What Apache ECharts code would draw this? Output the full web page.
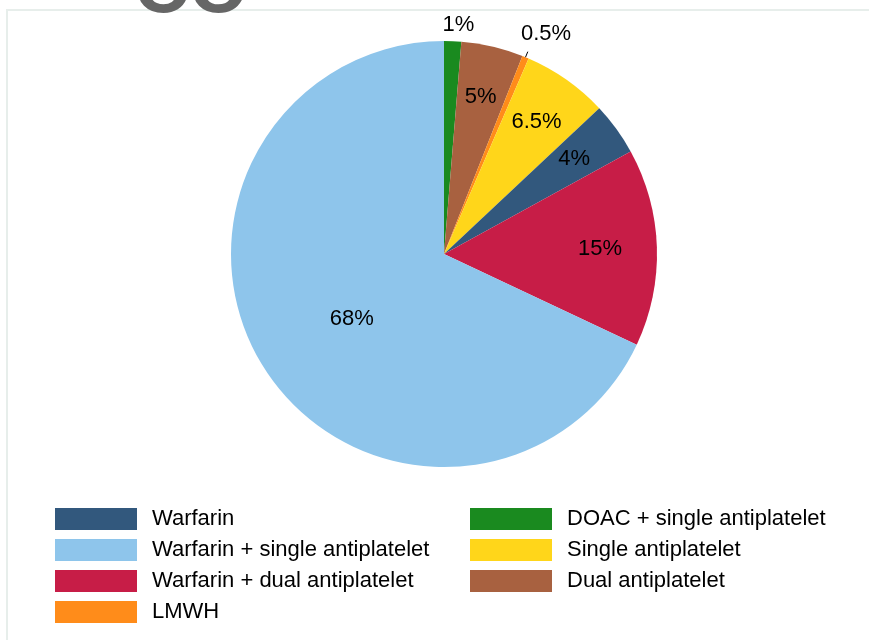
<!DOCTYPE html>
<html>
<head>
<meta charset="utf-8">
<script src="https://cdn.jsdelivr.net/npm/echarts@6/dist/echarts.min.js"></script>
<style>
html,body{margin:0;padding:0;background:#fff;}
#c{width:869px;height:640px;}
</style>
</head>
<body>
<div id="c"></div>
<script>
// Slices in clockwise order from 12 o'clock
const categories = ['DOAC + single antiplatelet', 'Dual antiplatelet', 'LMWH', 'Single antiplatelet', 'Warfarin', 'Warfarin + dual antiplatelet', 'Warfarin + single antiplatelet'];
const values = [1.3, 4.7, 0.5, 6.5, 4, 15, 68];
const labels = ['1%', '5%', '0.5%', '6.5%', '4%', '15%', '68%'];
const colors = ['#1a8a1f', '#a86140', '#ff8c1a', '#ffd61a', '#32587d', '#c71d47', '#8ec5eb'];
const outsideLabelled = ['DOAC + single antiplatelet', 'LMWH'];
const legendLeft = ['Warfarin', 'Warfarin + single antiplatelet', 'Warfarin + dual antiplatelet', 'LMWH'];
const legendRight = ['DOAC + single antiplatelet', 'Single antiplatelet', 'Dual antiplatelet'];

const chart = echarts.init(document.getElementById('c'), null, {renderer: 'canvas'});
const FONT = 'Liberation Sans, Arial, sans-serif';
const center = [444, 254];
const R = 213;

function labelSeries(names, outerRadius, padding) {
  return {
    type: 'pie', silent: true, center: center, radius: [0, outerRadius],
    startAngle: 90, clockwise: true, z: 5,
    itemStyle: {color: 'transparent', borderWidth: 0},
    emphasis: {disabled: true},
    data: categories.map((c, i) => ({
      name: c, value: values[i],
      itemStyle: {color: 'transparent', borderWidth: 0},
      label: {show: names.indexOf(c) >= 0, position: 'inside', formatter: labels[i],
               color: '#000', fontSize: 22, fontFamily: FONT, padding: padding}
    }))
  };
}

const option = {
  animation: false,
  backgroundColor: '#fff',
  graphic: [
    {type: 'rect', z: 1, shape: {x: 7, y: 10, width: 900, height: 700},
     style: {fill: 'none', stroke: '#e7eeeb', lineWidth: 2}},
    {type: 'text', z: 2, left: 134, top: -47,
     style: {text: 'CO', font: 'bold 76px Liberation Sans, Arial, sans-serif', fill: '#666666'}}
  ],
  legend: [
    {orient: 'vertical', left: 50, top: 503, itemWidth: 82, itemHeight: 22, itemGap: 9,
     icon: 'rect', data: legendLeft, selectedMode: false,
     textStyle: {fontSize: 22, fontFamily: FONT, color: '#000', padding: [3, 0, 0, 10]}},
    {orient: 'vertical', left: 465, top: 503, itemWidth: 82, itemHeight: 22, itemGap: 9,
     icon: 'rect', data: legendRight, selectedMode: false,
     textStyle: {fontSize: 22, fontFamily: FONT, color: '#000', padding: [3, 0, 0, 10]}}
  ],
  series: [
    {
      type: 'pie', center: center, radius: [0, R], startAngle: 90, clockwise: true,
      silent: true, z: 3,
      itemStyle: {borderWidth: 0},
      emphasis: {disabled: true},
      label: {show: false},
      labelLine: {show: false},
      data: categories.map((c, i) => ({name: c, value: values[i], itemStyle: {color: colors[i], borderWidth: 0}}))
    },
    // tick lines for the outside labels
    {
      type: 'pie', center: center, radius: [0, R], startAngle: 90, clockwise: true,
      silent: true, z: 4,
      itemStyle: {color: 'transparent', borderWidth: 0},
      emphasis: {disabled: true},
      data: categories.map((c, i) => ({
        name: c, value: values[i],
        itemStyle: {color: 'transparent', borderWidth: 0},
        label: {show: outsideLabelled.indexOf(c) >= 0, position: 'outside', formatter: ' ', color: 'transparent', fontSize: 4},
        labelLine: {show: outsideLabelled.indexOf(c) >= 0, length: 6, length2: 0, smooth: false,
                    lineStyle: {color: '#000', width: 1}}
      }))
    },
    labelSeries(['Warfarin + single antiplatelet'], 236, [20, 0, 0, 20]),
    labelSeries(['Warfarin + dual antiplatelet'], 306, [0, 0, 0, 0]),
    labelSeries(['Warfarin', 'Single antiplatelet', 'Dual antiplatelet'], 316, [6, 0, 0, 0]),
    labelSeries(['DOAC + single antiplatelet'], 452, [0, 0, 0, 10]),
    labelSeries(['LMWH'], 470, [5, 0, 0, 22])
  ]
};
chart.setOption(option);
</script>
</body>
</html>
